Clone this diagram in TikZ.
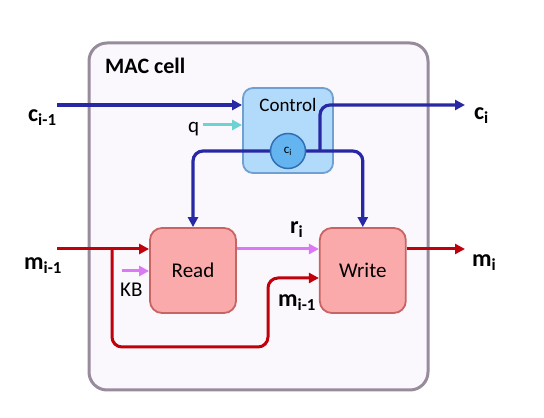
\documentclass[tikz,border=0pt]{standalone}
\usepackage{fontspec}
\setmainfont{Carlito}
\usetikzlibrary{arrows.meta,positioning}
\definecolor{cellgray}{RGB}{150,140,155}
\definecolor{cellfill}{RGB}{250,248,253}
\definecolor{ctrlfill}{RGB}{178,218,250}
\definecolor{ctrledge}{RGB}{110,160,210}
\definecolor{cifill}{RGB}{100,180,240}
\definecolor{ciedge}{RGB}{50,110,180}
\definecolor{unitfill}{RGB}{250,170,170}
\definecolor{unitedge}{RGB}{200,100,100}
\definecolor{macblue}{RGB}{40,40,165}
\definecolor{macred}{RGB}{192,0,10}
\definecolor{macviolet}{RGB}{220,120,245}
\definecolor{macteal}{RGB}{110,210,210}
\tikzset{
cellbox/.style={draw=cellgray,fill=cellfill,line width=3pt,rounded corners=18pt,minimum width=339pt,minimum height=347pt},
ctrlblock/.style={draw=ctrledge,fill=ctrlfill,line width=1.8pt,rounded corners=10pt,minimum width=90pt,minimum height=85pt},
unitblock/.style={draw=unitedge,fill=unitfill,line width=1.8pt,rounded corners=12pt,minimum width=86pt,minimum height=85pt,font=\fontsize{21}{25}\selectfont},
cinode/.style={circle,draw=ciedge,fill=cifill,line width=1.5pt,minimum size=35pt,inner sep=0pt,font=\fontsize{13}{15}\selectfont},
lbl/.style={font=\fontsize{24}{28}\selectfont\bfseries,inner sep=0pt,anchor=base west},
txt/.style={font=\fontsize{21}{25}\selectfont,inner sep=0pt,anchor=base west},
bluearrow/.style={-{Triangle[length=10pt,width=10pt]},macblue,line width=3.2pt,rounded corners=10pt},
redarrow/.style={-{Triangle[length=10pt,width=10pt]},macred,line width=3pt,rounded corners=10pt},
violetarrow/.style={-{Triangle[length=10pt,width=10pt]},macviolet,line width=3pt},
tealarrow/.style={-{Triangle[length=10pt,width=10pt]},macteal,line width=3pt}
}
\begin{document}
\begin{tikzpicture}[x=1pt,y=1pt,node distance=82pt]
\useasboundingbox (0,0) rectangle (544,418);
\node[cellbox] (cell) at (258.5,201.5) {};
\node[font=\fontsize{22}{26}\selectfont\bfseries,anchor=west,inner sep=0pt] (title) at (105,352) {MAC cell};

\node[ctrlblock] (control) at (288,287.5) {};
\node[font=\fontsize{19}{23}\selectfont,inner sep=0pt] (ctrltext) at (288,313) {Control};
\node[unitblock] (read) at (193,147.5) {Read};
\node[unitblock,right=of read] (write) {Write};

\coordinate (cin) at (57,313);
\coordinate (cout) at (465,313);
\coordinate (csplit) at (320,267);
\coordinate (qin) at (203,293);
\coordinate (min) at (57,169);
\coordinate (msplit) at (112,169);
\coordinate (mlow) at (268,71);
\coordinate (mout) at (465,169);
\coordinate (kbin) at (122,147);

\draw[bluearrow](cin)--(control.west |- cin);
\draw[tealarrow](qin)--(control.west |- qin);
\draw[bluearrow](288,267)-|(read.north);
\draw[bluearrow](288,267)-|(write.north);
\draw[bluearrow](csplit)|-(cout);
\node[cinode] (ci) at (288,267) {c\textsubscript{i}};

\draw[redarrow](min)--(read.west |- min);
\draw[redarrow](msplit)|-(mlow)--(mlow |- 0,140)--(write.west |- 0,140);
\draw[violetarrow](kbin)--(read.west |- kbin);
\draw[violetarrow](read.east |- min)--(write.west |- min);
\draw[redarrow](write.east |- min)--(mout);

\node[lbl] (cprev) at (28,296) {c\textsubscript{i-1}};
\node[lbl] (cnext) at (474,298) {c\textsubscript{i}};
\node[lbl] (mprev) at (24,148) {m\textsubscript{i-1}};
\node[lbl] (mnext) at (472,151) {m\textsubscript{i}};
\node[lbl] (rlbl) at (290,184) {r\textsubscript{i}};
\node[lbl] (mmid) at (278,111) {m\textsubscript{i-1}};
\node[txt] (qlbl) at (188,285) {q};
\node[txt] (kblbl) at (120,121) {KB};
\end{tikzpicture}
\end{document}
